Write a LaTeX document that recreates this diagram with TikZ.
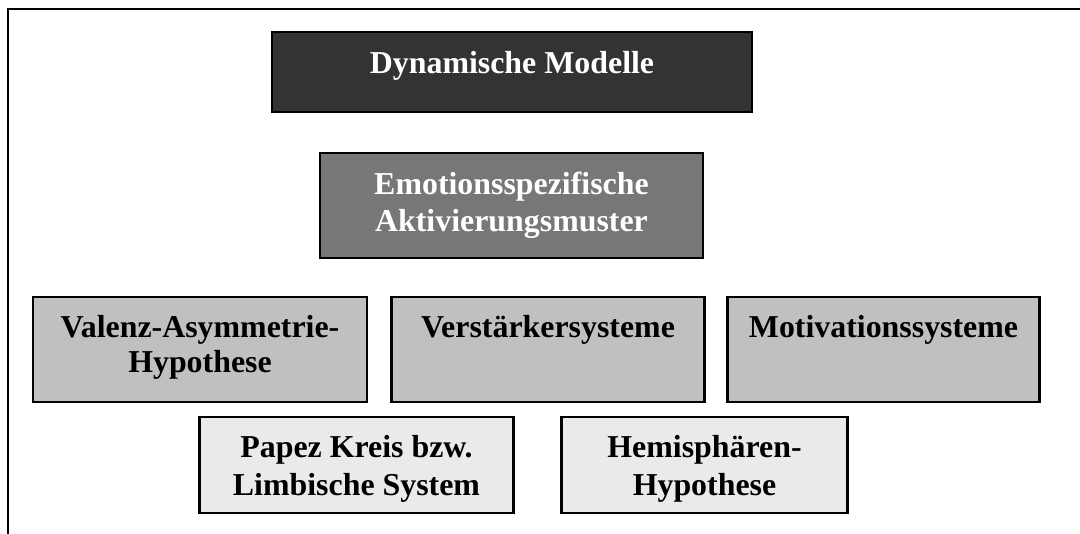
\documentclass[tikz,border=0pt]{standalone}
\usepackage{fontspec}
\setmainfont{Liberation Serif}
\usetikzlibrary{calc}
\definecolor{boxA}{HTML}{333333}
\definecolor{boxB}{HTML}{777777}
\definecolor{boxC}{HTML}{C0C0C0}
\definecolor{boxD}{HTML}{EAEAEA}
\tikzset{
  box/.style={draw=black, line width=2.2bp, inner sep=0pt, outer sep=0pt},
  lbl/.style={anchor=base, inner sep=0pt, font=\fontsize{32}{37}\selectfont\bfseries},
  wlbl/.style={lbl, text=white},
  frameline/.style={draw=black, line width=2.5bp},
}
\begin{document}
\begin{tikzpicture}[x=1bp, y=-1bp]
\useasboundingbox (0,0) rectangle (1080,534);
% frame
\coordinate (fbl) at (8,534);
\coordinate (ftl) at (8,9);
\coordinate (ftr) at (1080,9);
\draw[frameline] (fbl) -- (ftl) -- (ftr);
% boxes: corners
\newcommand{\mkbox}[6]{% name, x1, y1, x2, y2, fill
  \node[box, fill=#6, minimum width={#4-#2}, minimum height={#5-#3}] (#1) at ({(#2+#4)/2},{(#3+#5)/2}) {};}
\mkbox{dyn}{271}{32}{753}{112}{boxA}
\mkbox{emo}{319}{153}{704}{258}{boxB}
\mkbox{val}{32}{297}{368}{402}{boxC}
\mkbox{ver}{391}{297}{705}{402}{boxC}
\mkbox{mot}{727}{297}{1040}{402}{boxC}
\mkbox{pap}{199}{417}{514}{513}{boxD}
\mkbox{hem}{561}{417}{848}{513}{boxD}
% labels
\node[wlbl] (dynA) at ($(dyn.north)+(0,41)$) {Dynamische Modelle};
\node[wlbl] (emoA) at ($(emo.north)+(0,41)$) {Emotionsspezifische};
\node[wlbl] (emoB) at ($(emo.north)+(0,78)$) {Aktivierungsmuster};
\node[lbl] (valA) at ($(val.north)+(0,40)$) {Valenz-Asymmetrie-};
\node[lbl] (valB) at ($(val.north)+(0,75)$) {Hypothese};
\node[lbl] (verA) at ($(ver.north)+(0,40)$) {Verstärkersysteme};
\node[lbl] (motA) at ($(mot.north)+(0,40)$) {Motivationssysteme};
\node[lbl] (papA) at ($(pap.north)+(0,40)$) {Papez Kreis bzw.};
\node[lbl] (papB) at ($(pap.north)+(0,78)$) {Limbische System};
\node[lbl] (hemA) at ($(hem.north)+(0,40)$) {Hemisphären-};
\node[lbl] (hemB) at ($(hem.north)+(0,78)$) {Hypothese};
\end{tikzpicture}
\end{document}
